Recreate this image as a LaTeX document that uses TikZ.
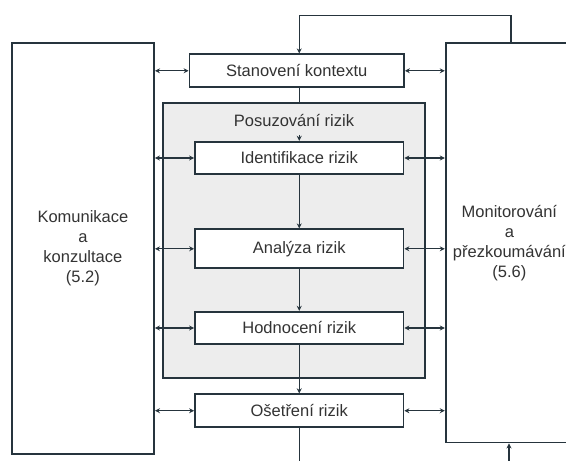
\documentclass[tikz,border=0pt]{standalone}
\usepackage{fontspec}
\setmainfont{Liberation Sans}
\usetikzlibrary{arrows.meta}
\definecolor{ln}{HTML}{26343D}
\definecolor{tx}{HTML}{333333}
\definecolor{gr}{HTML}{EDEDED}
\begin{document}
\begin{tikzpicture}[x=1pt,y=-1pt,
  font=\fontsize{16.5}{20}\selectfont, text=tx,
  box/.style={draw=ln, line width=1.8pt, fill=white, inner sep=0pt},
  conn/.style={draw=ln, line width=1.3pt},
  arr/.style={conn, -{Stealth[length=5pt,width=5pt]}},
  darr/.style={conn, {Stealth[length=5pt,width=5pt]}-{Stealth[length=5pt,width=5pt]}}]
\useasboundingbox (0,0) rectangle (566,461);
\clip (0,0) rectangle (566,461);
\fill[white] (0,0) rectangle (566,461);
% big side boxes
\node[box, minimum width=142.3pt, minimum height=411pt, align=center] (komun) at (82.9,248.5) {Komunikace\\a\\konzultace\\(5.2)};
\node[box, minimum width=127.4pt, minimum height=399.5pt, align=center] (monit) at (509.4,242.8) {Monitorování\\a\\přezkoumávání\\(5.6)};
% assessment group
\node[draw=ln, line width=1.8pt, fill=gr, minimum width=262pt, minimum height=274.4pt] (pos) at (294.25,240.5) {};
\node (poslab) at (294,120.7) {Posuzování rizik};
% process boxes
\node[box, minimum width=214.5pt, minimum height=33pt] (stan) at (296.75,70.8) {Stanovení kontextu};
\node[box, minimum width=208.5pt, minimum height=32.6pt] (ident) at (299.25,158) {Identifikace rizik};
\node[box, minimum width=208.5pt, minimum height=39pt] (anal) at (299.25,248.8) {Analýza rizik};
\node[box, minimum width=208.5pt, minimum height=32.6pt] (hodn) at (299.25,328) {Hodnocení rizik};
\node[box, minimum width=208.5pt, minimum height=33pt] (oset) at (299.25,410.7) {Ošetření rizik};
% vertical flow
\draw[conn] (ident.north |- stan.south) -- (ident.north |- pos.north);
\draw[arr] ([yshift=6pt]ident.north) -- (ident.north);
\draw[arr] (ident) -- (anal);
\draw[arr] (anal) -- (hodn);
\draw[arr] (hodn) -- (oset);
\coordinate (bl) at (299.25,470);
\draw[conn] (oset.south) -- (bl);
\coordinate (br) at (509,470);
\draw[arr] (br) -- (br |- monit.south);
\coordinate (tp) at (511,15.7);
\draw[arr] (tp |- monit.north) -- (tp) -- (tp -| ident.north) -- (ident.north |- stan.north);
% horizontal links
\foreach \n in {stan,ident,anal,hodn,oset}{
  \draw[darr] (komun.east |- \n.west) -- (\n.west);
  \draw[darr] (\n.east) -- (monit.west |- \n.east);
}
\end{tikzpicture}
\end{document}
